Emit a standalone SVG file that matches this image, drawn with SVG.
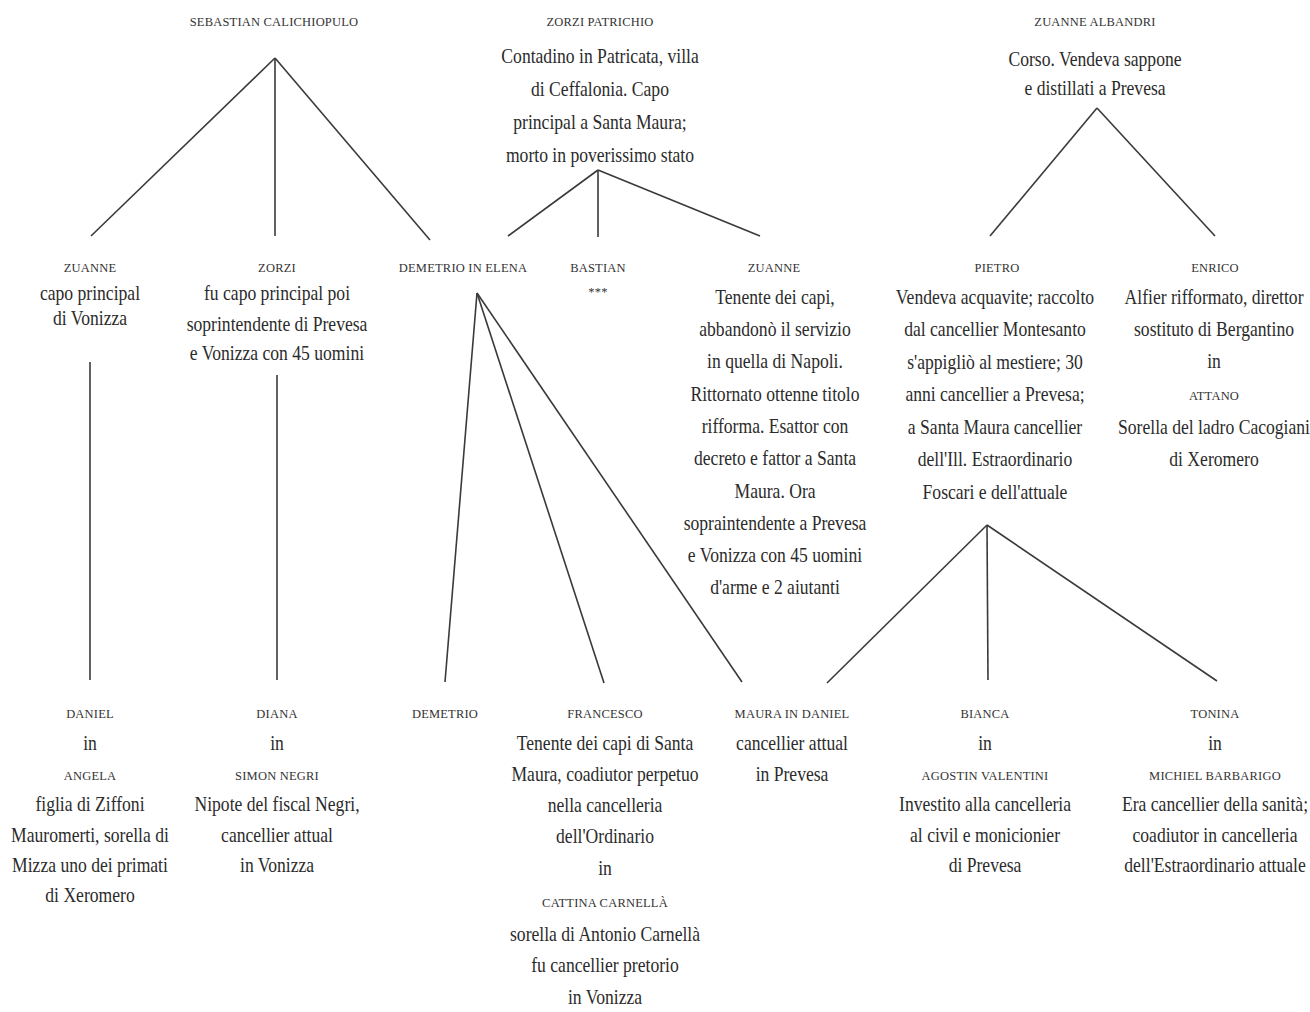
<svg xmlns="http://www.w3.org/2000/svg" width="1310" height="1012" viewBox="0 0 1310 1012">
<style>
.n{font-family:"Liberation Serif",serif;font-size:12.5px;fill:#333;text-anchor:middle;letter-spacing:0.2px}
.t{font-family:"Liberation Serif",serif;font-size:20px;fill:#2b2b2b;text-anchor:middle;transform:scaleX(0.88);transform-box:fill-box;transform-origin:center}
.c line{stroke:#3a3a3a;stroke-width:1.6;fill:none}
</style>
<rect width="1310" height="1012" fill="#ffffff"/>
<g class="c" id="connectors">
<line x1="275" y1="58" x2="91" y2="236"/>
<line x1="275" y1="58" x2="275" y2="236"/>
<line x1="275" y1="58" x2="430" y2="240"/>
<line x1="598" y1="170" x2="508" y2="236"/>
<line x1="598" y1="170" x2="598" y2="237"/>
<line x1="598" y1="170" x2="760" y2="236"/>
<line x1="1097" y1="108" x2="990" y2="236"/>
<line x1="1097" y1="108" x2="1215" y2="236"/>
<line x1="90" y1="362" x2="90" y2="680"/>
<line x1="277" y1="375" x2="277" y2="680"/>
<line x1="477" y1="293" x2="445" y2="682"/>
<line x1="477" y1="293" x2="604" y2="683"/>
<line x1="477" y1="293" x2="742" y2="682"/>
<line x1="987" y1="525" x2="827" y2="683"/>
<line x1="987" y1="525" x2="988" y2="680"/>
<line x1="987" y1="525" x2="1217" y2="681"/>
</g>
<g id="sebastian"><text class="n" x="274" y="26">SEBASTIAN CALICHIOPULO</text></g>
<g id="zorzi-patrichio">
<text class="n" x="600" y="26">ZORZI PATRICHIO</text>
<text class="t" x="600" y="63">Contadino in Patricata, villa</text>
<text class="t" x="600" y="96">di Ceffalonia. Capo</text>
<text class="t" x="600" y="129">principal a Santa Maura;</text>
<text class="t" x="600" y="162">morto in poverissimo stato</text>
</g>
<g id="zuanne-albandri">
<text class="n" x="1095" y="26">ZUANNE ALBANDRI</text>
<text class="t" x="1095" y="66">Corso. Vendeva sappone</text>
<text class="t" x="1095" y="95">e distillati a Prevesa</text>
</g>
<g id="zuanne-1">
<text class="n" x="90" y="272">ZUANNE</text>
<text class="t" x="90" y="300">capo principal</text>
<text class="t" x="90" y="325">di Vonizza</text>
</g>
<g id="zorzi">
<text class="n" x="277" y="272">ZORZI</text>
<text class="t" x="277" y="300">fu capo principal poi</text>
<text class="t" x="277" y="331">soprintendente di Prevesa</text>
<text class="t" x="277" y="360">e Vonizza con 45 uomini</text>
</g>
<g id="demetrio-elena"><text class="n" x="463" y="272">DEMETRIO IN ELENA</text></g>
<g id="bastian">
<text class="n" x="598" y="272">BASTIAN</text>
<text class="n" x="598" y="296">***</text>
</g>
<g id="zuanne-2">
<text class="n" x="774" y="272">ZUANNE</text>
<text class="t" x="775" y="304">Tenente dei capi,</text>
<text class="t" x="775" y="336">abbandonò il servizio</text>
<text class="t" x="775" y="368">in quella di Napoli.</text>
<text class="t" x="775" y="401">Rittornato ottenne titolo</text>
<text class="t" x="775" y="433">rifforma. Esattor con</text>
<text class="t" x="775" y="465">decreto e fattor a Santa</text>
<text class="t" x="775" y="498">Maura. Ora</text>
<text class="t" x="775" y="530">sopraintendente a Prevesa</text>
<text class="t" x="775" y="562">e Vonizza con 45 uomini</text>
<text class="t" x="775" y="594">d'arme e 2 aiutanti</text>
</g>
<g id="pietro">
<text class="n" x="997" y="272">PIETRO</text>
<text class="t" x="995" y="304">Vendeva acquavite; raccolto</text>
<text class="t" x="995" y="336">dal cancellier Montesanto</text>
<text class="t" x="995" y="369">s'appigliò al mestiere; 30</text>
<text class="t" x="995" y="401">anni cancellier a Prevesa;</text>
<text class="t" x="995" y="434">a Santa Maura cancellier</text>
<text class="t" x="995" y="466">dell'Ill. Estraordinario</text>
<text class="t" x="995" y="499">Foscari e dell'attuale</text>
</g>
<g id="enrico">
<text class="n" x="1215" y="272">ENRICO</text>
<text class="t" x="1214" y="304">Alfier rifformato, direttor</text>
<text class="t" x="1214" y="336">sostituto di Bergantino</text>
<text class="t" x="1214" y="368">in</text>
<text class="n" x="1214" y="400">ATTANO</text>
<text class="t" x="1214" y="434">Sorella del ladro Cacogiani</text>
<text class="t" x="1214" y="466">di Xeromero</text>
</g>
<g id="daniel">
<text class="n" x="90" y="718">DANIEL</text>
<text class="t" x="90" y="750">in</text>
<text class="n" x="90" y="780">ANGELA</text>
<text class="t" x="90" y="811">figlia di Ziffoni</text>
<text class="t" x="90" y="842">Mauromerti, sorella di</text>
<text class="t" x="90" y="872">Mizza uno dei primati</text>
<text class="t" x="90" y="902">di Xeromero</text>
</g>
<g id="diana">
<text class="n" x="277" y="718">DIANA</text>
<text class="t" x="277" y="750">in</text>
<text class="n" x="277" y="780">SIMON NEGRI</text>
<text class="t" x="277" y="811">Nipote del fiscal Negri,</text>
<text class="t" x="277" y="842">cancellier attual</text>
<text class="t" x="277" y="872">in Vonizza</text>
</g>
<g id="demetrio"><text class="n" x="445" y="718">DEMETRIO</text></g>
<g id="francesco">
<text class="n" x="605" y="718">FRANCESCO</text>
<text class="t" x="605" y="750">Tenente dei capi di Santa</text>
<text class="t" x="605" y="781">Maura, coadiutor perpetuo</text>
<text class="t" x="605" y="812">nella cancelleria</text>
<text class="t" x="605" y="843">dell'Ordinario</text>
<text class="t" x="605" y="875">in</text>
<text class="n" x="605" y="907">CATTINA CARNELLÀ</text>
<text class="t" x="605" y="941">sorella di Antonio Carnellà</text>
<text class="t" x="605" y="972">fu cancellier pretorio</text>
<text class="t" x="605" y="1004">in Vonizza</text>
</g>
<g id="maura-daniel">
<text class="n" x="792" y="718">MAURA IN DANIEL</text>
<text class="t" x="792" y="750">cancellier attual</text>
<text class="t" x="792" y="781">in Prevesa</text>
</g>
<g id="bianca">
<text class="n" x="985" y="718">BIANCA</text>
<text class="t" x="985" y="750">in</text>
<text class="n" x="985" y="780">AGOSTIN VALENTINI</text>
<text class="t" x="985" y="811">Investito alla cancelleria</text>
<text class="t" x="985" y="842">al civil e monicionier</text>
<text class="t" x="985" y="872">di Prevesa</text>
</g>
<g id="tonina">
<text class="n" x="1215" y="718">TONINA</text>
<text class="t" x="1215" y="750">in</text>
<text class="n" x="1215" y="780">MICHIEL BARBARIGO</text>
<text class="t" x="1215" y="811">Era cancellier della sanità;</text>
<text class="t" x="1215" y="842">coadiutor in cancelleria</text>
<text class="t" x="1215" y="872">dell'Estraordinario attuale</text>
</g>
</svg>
